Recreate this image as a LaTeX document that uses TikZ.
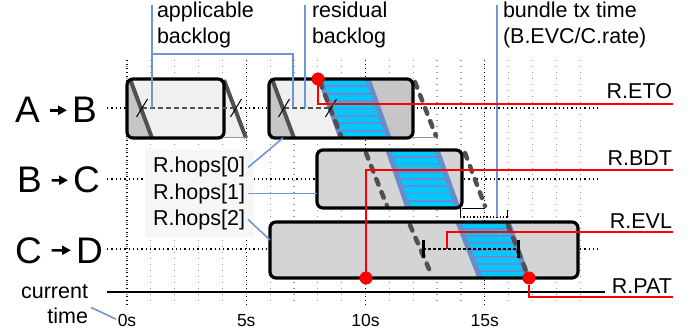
\documentclass[tikz,border=0pt]{standalone}
\usepackage{fontspec}
\setmainfont{Liberation Sans}
\usetikzlibrary{arrows.meta}

\definecolor{lightfill}{RGB}{240,240,240}
\definecolor{midfill}{RGB}{198,198,198}
\definecolor{boxfill}{RGB}{212,212,212}
\definecolor{darkline}{RGB}{80,80,80}
\definecolor{bandedge}{RGB}{105,140,205}
\definecolor{bandfill}{RGB}{0,200,255}
\definecolor{leadblue}{RGB}{110,150,210}
\definecolor{hopsbg}{RGB}{246,246,246}
\definecolor{gridgray}{RGB}{150,150,150}

% striped bundle: top-left, top-right, bottom-left, bottom-right x, top y, bottom y
\newcommand{\bundleband}[6]{%
  \begin{scope}
    \clip (#1,#5) -- (#2,#5) -- (#4,#6) -- (#3,#6) -- cycle;
    \fill[bandfill] (#1,#5) -- (#2,#5) -- (#4,#6) -- (#3,#6) -- cycle;
    \foreach \k in {1,...,7}
      \draw[bandedge, line width=1.8pt] (#1-30,{#5+\k*(#6-#5)/8}) -- (#4+30,{#5+\k*(#6-#5)/8});
  \end{scope}
  \draw[bandedge, line width=5pt] (#1,#5) -- (#3,#6);
  \draw[bandedge, line width=5pt] (#2,#5) -- (#4,#6);
}

\begin{document}
\begin{tikzpicture}[x=1pt,y=-1pt]
\tikzstyle{every node}+=[inner sep=0pt, outer sep=0pt]
\tikzset{
  hopbox/.style={draw, line width=3.2pt, rounded corners=6pt, anchor=north west},
  rowlabel/.style={font=\fontsize{37}{40}\selectfont, anchor=base west},
  rowarrow/.style={-{Triangle[length=9pt,width=9pt]}, line width=2.5pt, shorten <=10pt, shorten >=5pt},
  smalltext/.style={font=\fontsize{21.5}{26}\selectfont},
  axistext/.style={font=\fontsize{17.5}{20}\selectfont, anchor=base},
  minorgrid/.style={gridgray, line width=1.2pt, dash pattern=on 1.2pt off 4.8pt},
  majorgrid/.style={black, line width=1.4pt, dash pattern=on 1.4pt off 2.6pt},
  rowline/.style={black, line width=1.3pt, dash pattern=on 1.3pt off 3pt},
  leader/.style={leadblue, line width=1.6pt},
  redline/.style={red, line width=1.8pt},
  reddot/.style={circle, fill=red, minimum size=13pt},
  solidedge/.style={darkline, line width=4pt},
  dashededge/.style={darkline, line width=4.5pt, line cap=round, dash pattern=on 6pt off 8pt},
  backlog/.style={darkline, line width=1.4pt, dash pattern=on 5pt off 3pt},
  slash/.style={black, line width=1pt}
}
\useasboundingbox (0,0) rectangle (699,334);

\foreach \t in {0,...,19}
  \draw[minorgrid] ({127+23.85*\t},60) -- ({127+23.85*\t},305);
\foreach \t in {0,5,10,15}
  \draw[majorgrid] ({127+23.85*\t},60) -- ({127+23.85*\t},305);

\node[rowlabel] (a1) at (15,123) {A};
\node[rowlabel] (b1) at (72,123) {B};
\node[rowlabel] (b2) at (17,193) {B};
\node[rowlabel] (c2) at (73,193) {C};
\node[rowlabel] (c3) at (15,263) {C};
\node[rowlabel] (d3) at (76,263) {D};
\draw[rowarrow] (a1) -- (b1);
\draw[rowarrow] (b2) -- (c2);
\draw[rowarrow] (c3) -- (d3);

\foreach \y in {108,179,249}
  \draw[rowline] (107,\y) -- (598,\y);
\draw[black, line width=1.5pt] (107,292) -- (605,292);

\begin{scope}
  \clip[rounded corners=6pt] (127,79) rectangle (224,138);
  \fill[lightfill] (127,79) rectangle (224,138);
  \fill[midfill] (120,79) -- (130,79) -- (152,138) -- (120,138) -- cycle;
  \draw[solidedge] (130,79) -- (152,138);
\end{scope}
\fill[lightfill] (224,79) -- (246,138) -- (224,138) -- cycle;
\draw[solidedge] (224,80) -- (246,138);
\draw[gridgray, line width=1pt] (224,138) -- (246,138);
\node[hopbox, minimum width=97pt, minimum height=59pt] (ab1) at (127,79) {};

\begin{scope}
  \clip[rounded corners=6pt] (269,79) rectangle (413,138);
  \fill[lightfill] (269,79) rectangle (413,138);
  \fill[midfill] (260,79) -- (272,79) -- (294,138) -- (260,138) -- cycle;
  \draw[solidedge] (272,79) -- (294,138);
  \fill[midfill] (368,79) -- (420,79) -- (420,138) -- (389,138) -- cycle;
  \bundleband{320}{368}{341}{389}{79}{138}
  \draw[dashededge] (320,82) -- (341,136);
\end{scope}
\draw[dashededge] (415,82) -- (436,136);
\draw[gridgray, line width=1pt] (413,138) -- (436,138);
\node[hopbox, minimum width=144pt, minimum height=59pt] (ab2) at (269,79) {};

\draw[backlog] (142,108) -- (236,108);
\draw[backlog] (284,108) -- (331,108);
\foreach \x in {142,236,284,331}
  \draw[slash] (\x-5.5,117) -- (\x+5.5,99);

\begin{scope}
  \clip[rounded corners=6pt] (317,150) rectangle (462,208);
  \fill[boxfill] (317,150) rectangle (462,208);
  \bundleband{388}{437}{408}{458}{150}{208}
  \draw[dashededge] (366,153) -- (387,206);
\end{scope}
\draw[dashededge] (465,153) -- (485,206);
\draw[black, line width=1pt] (462,208) -- (485,208);
\node[hopbox, minimum width=145pt, minimum height=58pt] (bc) at (317,150) {};

\begin{scope}
  \clip[rounded corners=6pt] (270,222) rectangle (578,278);
  \fill[boxfill] (270,222) rectangle (578,278);
  \draw[dashededge] (410,225) -- (432,276);
  \bundleband{458}{508}{480}{528}{222}{278}
  \draw[dashededge] (508,225) -- (528,276);
\end{scope}
\node[hopbox, minimum width=308pt, minimum height=56pt] (cd) at (270,222) {};

\draw[black, line width=1pt] (460,208) -- (460,218);
\draw[black, line width=1pt] (507,210) -- (507,218);
\draw[black, line width=1.3pt, dash pattern=on 1.3pt off 2pt] (460,217) -- (507,217);

\draw[black, line width=3pt] (423,240) -- (423,258);
\draw[black, line width=3pt] (518,240) -- (518,258);
\draw[black, line width=2.8pt, dash pattern=on 2.8pt off 2.2pt] (423,249) -- (518,249);

\node[fill=hopsbg, minimum width=109pt, minimum height=87pt, anchor=north west] (hops) at (145,150) {};
\node[smalltext, anchor=base west] (hop0) at (153,173) {R.hops[0]};
\node[smalltext, anchor=base west] (hop1) at (153,199) {R.hops[1]};
\node[smalltext, anchor=base west] (hop2) at (153,225) {R.hops[2]};
\draw[leader] ([xshift=3pt]hop0.east) -- ([xshift=14pt]ab2.south west);
\draw[leader] ([xshift=3pt]hop1.east) -- (hop1.east -| bc.west);
\draw[leader] ([xshift=3pt]hop2.east) -- ([yshift=-18pt]cd.north west);

\node[smalltext, anchor=north west, align=left] (appl) at (157,2) {applicable\\backlog};
\node[smalltext, anchor=north west, align=left] (resid) at (312,2) {residual\\backlog};
\node[smalltext, anchor=north west, align=left] (txtime) at (503,2) {bundle tx time\\(B.EVC/C.rate)};
\coordinate (blog1) at (152,108);
\coordinate (blog2) at (293,108);
\coordinate (residend) at (305,108);
\coordinate (txend) at (497,217);
\draw[leader] ([xshift=-5pt,yshift=-3pt]appl.north west) -- (blog1);
\draw[leader] (blog1 |- 0,54) -| (blog2);
\draw[leader] ([xshift=-7pt,yshift=-3pt]resid.north west) -- (residend);
\draw[leader] ([xshift=-6pt,yshift=-3pt]txtime.north west) -- (txend);

\node[reddot] (eto) at (318,79) {};
\node[reddot] (bdt) at (366,278) {};
\node[reddot] (pat) at (529,278) {};
\coordinate (evl) at (447,249);
\node[smalltext, anchor=base east] (reto) at (672,99) {R.ETO};
\node[smalltext, anchor=base east] (rbdt) at (672,165) {R.BDT};
\node[smalltext, anchor=base east] (revl) at (672,228) {R.EVL};
\node[smalltext, anchor=base east] (rpat) at (672,293) {R.PAT};
\draw[redline] (eto) |- ([xshift=1pt,yshift=-5pt]reto.south east);
\draw[redline] (bdt) |- ([xshift=1pt,yshift=-5pt]rbdt.south east);
\draw[redline] (evl) |- ([xshift=1pt,yshift=-4pt]revl.south east);
\draw[redline] (pat) |- ([xshift=1pt,yshift=-4pt]rpat.south east);

\node[smalltext, anchor=base east] (cur) at (88,298) {current};
\node[smalltext, anchor=base east] (tim) at (88,323) {time};
\foreach \t in {0,5,10,15}
  \node[axistext] (ax\t) at ({127+23.85*\t},326) {\t s};
\draw[leader, shorten >=2pt] ([xshift=3pt]tim.north east) -- (ax0.west);
\end{tikzpicture}
\end{document}
